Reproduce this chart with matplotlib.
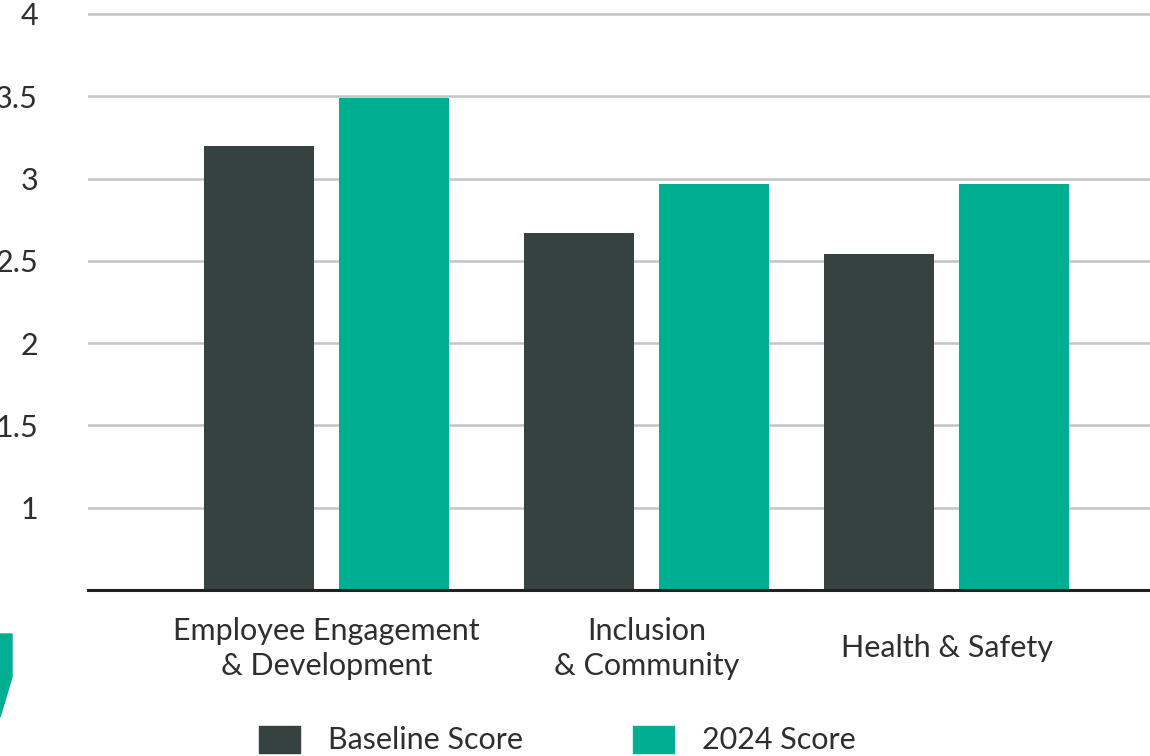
import matplotlib.pyplot as plt
from matplotlib.patches import Patch, Polygon

# Scores per category
CATEGORIES = ['Employee Engagement\n& Development', 'Inclusion\n& Community', 'Health & Safety']
BASELINE = [3.20, 2.67, 2.54]
SCORE_2024 = [3.49, 2.97, 2.97]
SERIES_NAMES = ['Baseline Score', '2024 Score']
Y_TICKS = [1, 1.5, 2, 2.5, 3, 3.5, 4]
Y_TICK_LABELS = ['1', '1.5', '2', '2.5', '3', '3.5', '4']

# Group centres are not evenly spaced in the layout
GROUP_POS = [0, 1, 1.9375]
BAR_WIDTH = 0.34375
BAR_OFFSET = 0.2109

DARK = '#364240'
TEAL = '#00ae92'
TEXT = '#2e2e2e'
GRID = '#c4c4c4'

W, H = 1150, 756
FONT = 'Lato'
FS = 22

plt.rcParams['font.family'] = [FONT, 'DejaVu Sans']

fig = plt.figure(figsize=(W / 100, H / 100), dpi=100)


def px(x, y):
    '''Pixel position (from top left) to figure fraction.'''
    return x / W, 1 - y / H


left, bottom = px(88, 590)
ax = fig.add_axes([left, bottom, 1 - left, 1 - bottom])

ax.bar([p - BAR_OFFSET for p in GROUP_POS], BASELINE, width=BAR_WIDTH,
       bottom=0, color=DARK, zorder=3)
ax.bar([p + BAR_OFFSET for p in GROUP_POS], SCORE_2024, width=BAR_WIDTH,
       bottom=0, color=TEAL, zorder=3)

# 0.5 units span 82.3 px; leave 14 px above the top gridline
ax.set_ylim(0.5, 4 + 14 / 164.6)
ax.set_xlim((88 - 326.5) / 320, (1150 - 326.5) / 320)

ax.set_yticks(Y_TICKS, labels=Y_TICK_LABELS)
ax.set_xticks(GROUP_POS, labels=CATEGORIES)
ax.yaxis.grid(True, color=GRID, linewidth=1.8, zorder=0)
ax.set_axisbelow(True)

ax.tick_params(axis='y', length=0, pad=36, labelsize=FS, labelcolor=TEXT)
ax.tick_params(axis='x', length=0, pad=42, labelsize=FS, labelcolor=TEXT)
for lab in ax.get_xticklabels():
    lab.set_verticalalignment('center')
    lab.set_linespacing(1.3)

for side in ['top', 'right', 'left']:
    ax.spines[side].set_visible(False)
ax.spines['bottom'].set_color('#222222')
ax.spines['bottom'].set_linewidth(2.2)
ax.spines['bottom'].set_zorder(4)

# Legend along the lower edge
handles = [Patch(color=DARK), Patch(color=TEAL)]
fs_px = FS * 100 / 72
fig.legend(handles, SERIES_NAMES, loc='center left',
           bbox_to_anchor=px(259, 740), ncol=2, frameon=False,
           fontsize=FS, labelcolor=TEXT, borderpad=0, borderaxespad=0,
           handlelength=41 / fs_px, handleheight=30 / fs_px,
           handletextpad=28 / fs_px, columnspacing=110 / fs_px)

# Accent shape at the left edge
corner = [px(0, 634), px(12, 634), px(12, 677), px(0, 717)]
fig.add_artist(Polygon(corner, closed=True, color=TEAL,
                       transform=fig.transFigure))

fig.savefig('out.png', dpi=100)
